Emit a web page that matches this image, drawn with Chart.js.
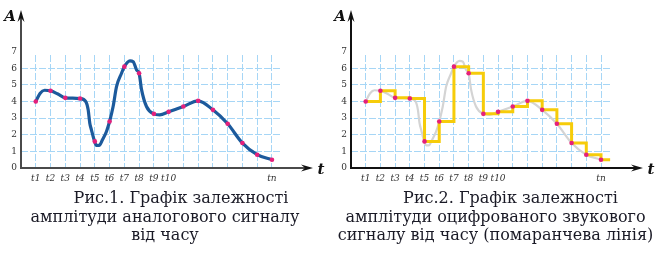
<!DOCTYPE html>
<html>
<head>
<meta charset="utf-8">
<script src="https://cdn.jsdelivr.net/npm/chart.js@4"></script>
<style>
  body { margin: 0; background: #fff; width: 658px; height: 254px; position: relative; overflow: hidden; }
  .box { position: absolute; top: 0; height: 190px; }
  .cap { position: absolute; top: 189px; font-family: "DejaVu Serif", serif; font-size: 16px; line-height: 18.5px; color: #1a1a26; text-align: center; white-space: nowrap; }
</style>
</head>
<body>
<div class="box" style="left:0; width:329px;"><canvas id="grafico1"></canvas></div>
<div class="box" style="left:330px; width:328px;"><canvas id="grafico2"></canvas></div>
<div class="cap" style="left:0; width:330px; text-indent:32px;">Рис.1. Графік залежності<br>амплітуди аналогового сигналу<br>від часу</div>
<div class="cap" style="left:330px; width:331px; text-indent:30px;">Рис.2. Графік залежності<br>амплітуди оцифрованого звукового<br>сигналу від часу (помаранчева лінія)</div>
<script>
"use strict";

// moments t1..tn and sampled amplitude
const sampleX = [1, 2, 3, 4, 5, 6, 7, 8, 9, 10, 11, 12, 13, 14, 15, 16, 17];
const sampleA = [4.0, 4.65, 4.22, 4.18, 1.6, 2.8, 6.1, 5.7, 3.26, 3.38, 3.7, 4.04, 3.5, 2.66, 1.5, 0.8, 0.5];
const tickLabels = ["t1", "t2", "t3", "t4", "t5", "t6", "t7", "t8", "t9", "t10", "", "", "", "", "", "", "tn"];
const yTicks = [0, 1, 2, 3, 4, 5, 6, 7];

// analog signal
const analogX = [1, 1.3, 1.6, 2, 2.5, 3, 3.5, 4, 4.39, 4.55, 4.66, 4.77, 4.95, 5.11, 5.29, 5.52, 5.79, 6, 6.24, 6.47, 6.81, 7, 7.38, 7.6, 7.83, 8, 8.17, 8.5, 8.98, 9.4, 10, 11, 12, 13, 14, 15, 16, 17];
const analogA = [4.0, 4.5, 4.68, 4.65, 4.45, 4.22, 4.2, 4.18, 4.0, 3.5, 2.7, 2.3, 1.7, 1.36, 1.36, 1.7, 2.2, 2.8, 3.7, 4.9, 5.7, 6.1, 6.45, 6.4, 5.9, 5.7, 4.7, 3.7, 3.26, 3.2, 3.38, 3.7, 4.04, 3.5, 2.66, 1.5, 0.8, 0.5];

// digital signal holds last sample until the end of the grid
const holdEndX = 17.62;

const gridBlue = "#a6d6f6";
const pinkDot = "#e5207c";

const pts = (xs, ys) => xs.map((x, i) => ({x: x, y: ys[i]}));

function axesPlugin(axisColor) {
    return {
        id: "arrows",
        afterDraw(chart) {
            const c = chart.ctx;
            const xs = chart.scales.x, ys = chart.scales.y;
            const x0 = xs.getPixelForValue(0);
            const y0 = ys.getPixelForValue(0);
            const tipY = 10, tipX = x0 + 292;
            c.save();
            c.strokeStyle = axisColor;
            c.lineWidth = 2;
            c.beginPath();
            c.moveTo(x0, y0 + 1);
            c.lineTo(x0, tipY + 6);
            c.moveTo(x0 - 1, y0);
            c.lineTo(tipX - 6, y0);
            c.stroke();
            c.fillStyle = "#111";
            c.beginPath();
            c.moveTo(x0, tipY);
            c.lineTo(x0 + 3.5, tipY + 12);
            c.lineTo(x0, tipY + 8);
            c.lineTo(x0 - 3.5, tipY + 12);
            c.closePath();
            c.fill();
            c.beginPath();
            c.moveTo(tipX, y0);
            c.lineTo(tipX - 12, y0 - 3.5);
            c.lineTo(tipX - 8, y0);
            c.lineTo(tipX - 12, y0 + 3.5);
            c.closePath();
            c.fill();
            c.font = "italic bold 15px 'DejaVu Serif', serif";
            c.textAlign = "center";
            c.textBaseline = "middle";
            c.fillText("A", x0 - 11, 17);
            c.fillText("t", tipX + 8, y0 + 2);
            c.restore();
        }
    };
}

function makeOptions() {
    return {
        responsive: false,
        animation: false,
        layout: {padding: {top: 55, right: 47, left: 0, bottom: 0}},
        plugins: {legend: {display: false}, tooltip: {enabled: false}},
        scales: {
            x: {
                type: "linear",
                min: 0,
                max: holdEndX + 0.06,
                afterFit: s => { s.height = 22; },
                afterBuildTicks: s => { s.ticks = [0].concat(sampleX).map(v => ({value: v})); },
                ticks: {
                    autoSkip: false,
                    maxRotation: 0,
                    padding: 5,
                    color: "#333",
                    font: {family: "'DejaVu Serif', serif", size: 9, style: "italic"},
                    callback: v => (v >= 1 ? tickLabels[v - 1] : "")
                },
                grid: {
                    drawTicks: false,
                    color: ctx => (ctx.tick && ctx.tick.value === 0 ? "rgba(0,0,0,0)" : gridBlue),
                    lineWidth: 1,
                    borderDash: [7, 2]
                },
                border: {display: false, dash: [7, 2]}
            },
            y: {
                type: "linear",
                min: 0,
                max: 6.8,
                afterFit: s => { s.width = 21; },
                afterBuildTicks: s => { s.ticks = yTicks.map(v => ({value: v})); },
                ticks: {
                    autoSkip: false,
                    padding: 4,
                    color: "#333",
                    font: {family: "'DejaVu Serif', serif", size: 9}
                },
                grid: {
                    drawTicks: false,
                    color: ctx => (ctx.tick && (ctx.tick.value === 0 || ctx.tick.value === 7) ? "rgba(0,0,0,0)" : gridBlue),
                    lineWidth: 1,
                    borderDash: [7, 2]
                },
                border: {display: false, dash: [7, 2]}
            }
        }
    };
}

const ctx1 = document.getElementById("grafico1");
ctx1.width = 329; ctx1.height = 190;

let chart1 = new Chart(ctx1, {
    type: "scatter",
    data: {
        datasets: [
            {
                data: pts(sampleX, sampleA),
                showLine: false,
                pointRadius: 2.3,
                pointBackgroundColor: pinkDot,
                pointBorderWidth: 0
            },
            {
                data: pts(analogX, analogA),
                showLine: true,
                borderColor: "#1c5a9c",
                borderWidth: 3.2,
                cubicInterpolationMode: "monotone",
                pointRadius: 0,
                borderCapStyle: "round"
            }
        ]
    },
    options: makeOptions(),
    plugins: [axesPlugin("#4a4a4a")]
});

const ctx2 = document.getElementById("grafico2");
ctx2.width = 328; ctx2.height = 190;

let chart2 = new Chart(ctx2, {
    type: "scatter",
    data: {
        datasets: [
            {
                data: pts(sampleX, sampleA),
                showLine: false,
                pointRadius: 2.3,
                pointBackgroundColor: pinkDot,
                pointBorderWidth: 0
            },
            {
                data: pts(sampleX.concat([holdEndX]), sampleA.concat([sampleA[sampleA.length - 1]])),
                showLine: true,
                stepped: "before",
                borderColor: "#f6cc0a",
                borderWidth: 3,
                pointRadius: 0
            },
            {
                data: pts(analogX, analogA),
                showLine: true,
                borderColor: "#d4d4d4",
                borderWidth: 2.2,
                cubicInterpolationMode: "monotone",
                pointRadius: 0
            }
        ]
    },
    options: makeOptions(),
    plugins: [axesPlugin("#111")]
});
</script>
</body>
</html>
